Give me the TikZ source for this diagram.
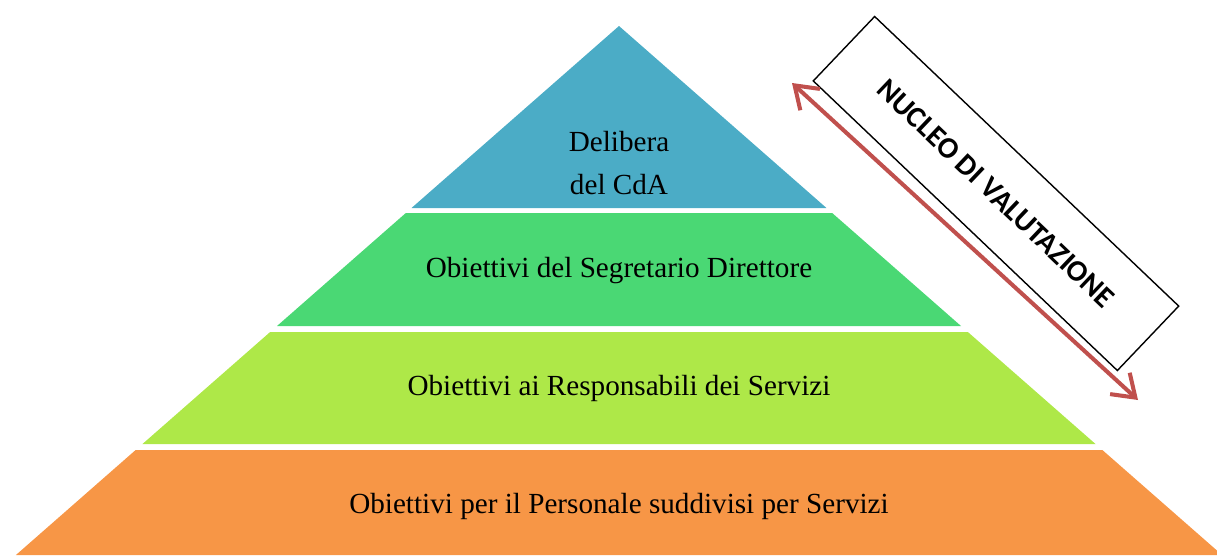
\documentclass[tikz,border=0pt]{standalone}
\usepackage{fontspec}
\setmainfont{Liberation Serif}
\newfontfamily\nvfont{Carlito}
\usetikzlibrary{arrows.meta}

\definecolor{cdablu}{HTML}{4BACC6}
\definecolor{segverde}{HTML}{4AD874}
\definecolor{resplime}{HTML}{AEE848}
\definecolor{persarancio}{HTML}{F79646}
\definecolor{frecciarossa}{HTML}{C0504D}

\tikzset{
    livello/.style={font=\fontsize{16.6}{24.5}\selectfont, align=center},
    barba/.tip={Straight Barb[length=4.2mm,width=5.8mm]}
}

\begin{document}
\begin{tikzpicture}[x=0.02cm,y=-0.02cm]
        \useasboundingbox (0,0) rectangle (1217,555);

        % fasce della piramide
        \foreach \t/\b/\c in {26/208/cdablu, 213/326/segverde, 332/444/resplime, 450/555/persarancio}
        \fill[fill=\c] ({619-1.14*(\t-26)},\t) -- ({619+1.14*(\t-26)},\t)
            -- ({619+1.14*(\b-26)},\b) -- ({619-1.14*(\b-26)},\b) -- cycle;

        \node[livello] (cda) at (619,163) {Delibera\\del CdA};
        \node[livello] (seg) at (619,271) {Obiettivi del Segretario Direttore};
        \node[livello] (resp) at (619,388) {Obiettivi ai Responsabili dei Servizi};
        \node[livello] (pers) at (619,506) {Obiettivi per il Personale suddivisi per Servizi};

        % nucleo di valutazione
        \node[draw, fill=white, line width=0.8pt, minimum width=8.4cm, minimum height=1.78cm,
            rotate=-43.6, font=\nvfont\bfseries\fontsize{17}{20}\selectfont] (nucleo) at (996,193.5) {NUCLEO DI VALUTAZIONE};

        \coordinate (nvsu) at (792,83);
        \coordinate (nvgiu) at (1138,400);
        \draw[frecciarossa, line width=2.3pt, barba-barba] (nvsu) -- (nvgiu);

    \end{tikzpicture}
\end{document}
